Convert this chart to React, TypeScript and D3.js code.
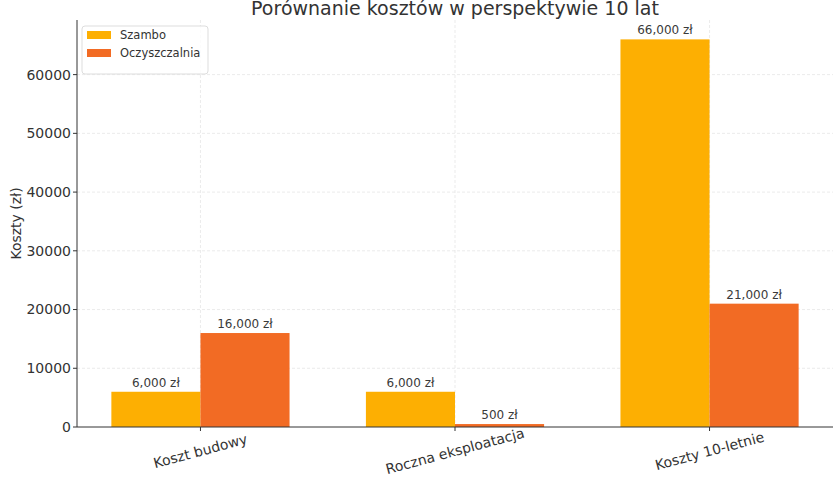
import React, { useEffect, useRef } from 'react';
import * as d3 from 'd3';

const WIDTH = 840;
const HEIGHT = 480;
const MARGIN = { top: 20, right: 7, bottom: 53, left: 77 };

const categories = ['Koszt budowy', 'Roczna eksploatacja', 'Koszty 10-letnie'];
const seriesNames = ['Szambo', 'Oczyszczalnia'];
const szamboValues = [6000, 6000, 66000];
const oczyszczalniaValues = [16000, 500, 21000];
const yTicks = [0, 10000, 20000, 30000, 40000, 50000, 60000];

const COLORS = ['#FDAF02', '#F26B24'];
const FONT = '"DejaVu Sans", sans-serif';
const BAR_WIDTH = 0.35;

const fmt = (v: number) => `${d3.format(',')(v)} zł`;

const App: React.FC = () => {
  const svgRef = useRef<SVGSVGElement | null>(null);

  useEffect(() => {
    if (!svgRef.current) return;
    const svg = d3.select(svgRef.current);
    svg.selectAll('*').remove();

    const plotW = WIDTH - MARGIN.left - MARGIN.right;
    const plotH = HEIGHT - MARGIN.top - MARGIN.bottom;
    const series = [szamboValues, oczyszczalniaValues];

    // matplotlib-style numeric x axis with 5% margins around the bars
    const span = categories.length - 1 + 2 * BAR_WIDTH;
    const xMin = -BAR_WIDTH - 0.05 * span;
    const xMax = categories.length - 1 + BAR_WIDTH + 0.05 * span;
    const x = d3.scaleLinear().domain([xMin, xMax]).range([MARGIN.left, MARGIN.left + plotW]);

    const maxVal = d3.max(series.flat()) || 0;
    const y = d3.scaleLinear().domain([0, maxVal * 1.05]).range([MARGIN.top + plotH, MARGIN.top]);

    // grid
    const grid = svg.append('g').attr('stroke', '#e6e6e6').attr('stroke-width', 0.8).attr('stroke-dasharray', '3,2');
    yTicks.slice(1).forEach(t => {
      grid.append('line').attr('x1', MARGIN.left).attr('x2', MARGIN.left + plotW).attr('y1', y(t)).attr('y2', y(t));
    });
    categories.forEach((_, i) => {
      grid.append('line').attr('x1', x(i)).attr('x2', x(i)).attr('y1', MARGIN.top).attr('y2', MARGIN.top + plotH);
    });

    // bars + value labels
    series.forEach((vals, s) => {
      const offset = s === 0 ? -BAR_WIDTH : 0;
      vals.forEach((v, i) => {
        const x0 = x(i + offset);
        const x1 = x(i + offset + BAR_WIDTH);
        svg.append('rect')
          .attr('x', x0)
          .attr('width', x1 - x0)
          .attr('y', y(v))
          .attr('height', y(0) - y(v))
          .attr('fill', COLORS[s]);
        svg.append('text')
          .attr('x', (x0 + x1) / 2)
          .attr('y', y(v) - 5)
          .attr('text-anchor', 'middle')
          .attr('font-family', FONT)
          .attr('font-size', 12)
          .attr('fill', '#3a3a3a')
          .text(fmt(v));
      });
    });

    // spines
    svg.append('line')
      .attr('x1', MARGIN.left).attr('x2', MARGIN.left)
      .attr('y1', MARGIN.top).attr('y2', MARGIN.top + plotH)
      .attr('stroke', '#333').attr('stroke-width', 1);
    svg.append('line')
      .attr('x1', MARGIN.left).attr('x2', MARGIN.left + plotW)
      .attr('y1', y(0)).attr('y2', y(0))
      .attr('stroke', '#333').attr('stroke-width', 1);

    // y ticks
    yTicks.forEach(t => {
      svg.append('line')
        .attr('x1', MARGIN.left - 4).attr('x2', MARGIN.left)
        .attr('y1', y(t)).attr('y2', y(t))
        .attr('stroke', '#333');
      svg.append('text')
        .attr('x', MARGIN.left - 6)
        .attr('y', y(t))
        .attr('dy', '0.35em')
        .attr('text-anchor', 'end')
        .attr('font-family', FONT)
        .attr('font-size', 14)
        .attr('fill', '#333')
        .text(t);
    });

    // x ticks, rotated labels
    categories.forEach((c, i) => {
      svg.append('line')
        .attr('x1', x(i)).attr('x2', x(i))
        .attr('y1', y(0)).attr('y2', y(0) + 4)
        .attr('stroke', '#333');
      svg.append('text')
        .attr('transform', `translate(${x(i)}, ${y(0) + 24}) rotate(-15)`)
        .attr('text-anchor', 'middle')
        .attr('dy', '0.35em')
        .attr('font-family', FONT)
        .attr('font-size', 14)
        .attr('fill', '#333')
        .text(c);
    });

    // axis label + title
    svg.append('text')
      .attr('transform', `translate(16, ${MARGIN.top + plotH / 2}) rotate(-90)`)
      .attr('text-anchor', 'middle')
      .attr('dy', '0.35em')
      .attr('font-family', FONT)
      .attr('font-size', 14)
      .attr('fill', '#333')
      .text('Koszty (zł)');
    svg.append('text')
      .attr('x', MARGIN.left + plotW / 2)
      .attr('y', 15)
      .attr('text-anchor', 'middle')
      .attr('font-family', FONT)
      .attr('font-size', 19)
      .attr('fill', '#333')
      .text('Porównanie kosztów w perspektywie 10 lat');

    // legend
    const legend = svg.append('g').attr('transform', `translate(${MARGIN.left + 5}, ${MARGIN.top + 6})`);
    legend.append('rect')
      .attr('width', 126).attr('height', 48)
      .attr('rx', 3)
      .attr('fill', 'white').attr('fill-opacity', 0.85)
      .attr('stroke', '#dddddd');
    seriesNames.forEach((name, i) => {
      legend.append('rect')
        .attr('x', 5).attr('y', 5 + i * 18)
        .attr('width', 24).attr('height', 8)
        .attr('fill', COLORS[i]);
      legend.append('text')
        .attr('x', 38).attr('y', 9 + i * 18)
        .attr('dy', '0.35em')
        .attr('font-family', FONT)
        .attr('font-size', 11.5)
        .attr('fill', '#333')
        .text(name);
    });
  }, []);

  return (
    <svg
      ref={svgRef}
      width={WIDTH}
      height={HEIGHT}
      style={{ position: 'absolute', left: 0, top: 0, background: 'white' }}
    />
  );
};

export default App;
